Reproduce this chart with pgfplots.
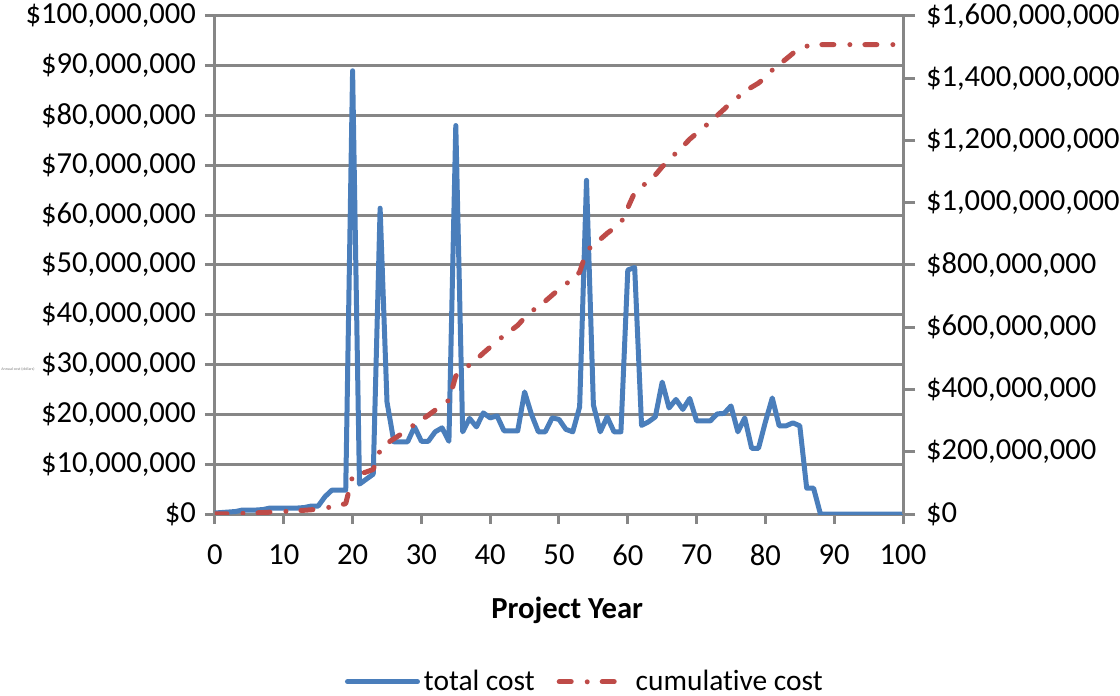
\documentclass[border=0pt]{standalone}
\usepackage{pgfplots}
\usepackage{pgfplotstable}
\pgfplotsset{compat=1.18}
\usepackage{fontspec}
\setmainfont[Ligatures=NoCommon]{Carlito}
\definecolor{cblue}{RGB}{74,126,187}
\definecolor{cred}{RGB}{190,75,72}
\definecolor{cgrid}{RGB}{134,134,134}

\pgfplotstableread{
year total cum
0 0.2 0.2
1 0.3 0.5
2 0.4 0.9
3 0.5 1.4
4 0.8 2.2
5 0.8 3.0
6 0.8 3.8
7 0.9 4.7
8 1.2 5.9
9 1.2 7.1
10 1.2 8.3
11 1.2 9.5
12 1.2 10.7
13 1.3 12.0
14 1.6 13.6
15 1.6 15.2
16 3.5 18.7
17 4.8 23.5
18 4.8 28.3
19 4.8 33.1
20 89 122.1
21 6 128.1
22 7 135.1
23 8 143.1
24 61.4 204.5
25 22.5 227.0
26 14.5 241.5
27 14.5 256.0
28 14.5 270.5
29 17.5 288.0
30 14.6 302.6
31 14.6 317.2
32 16.5 333.7
33 17.3 351.0
34 14.6 365.6
35 78 443.6
36 16.5 460.1
37 19.2 479.3
38 17.5 496.8
39 20.3 517.1
40 19.3 536.4
41 19.7 556.1
42 16.7 572.8
43 16.7 589.5
44 16.7 606.2
45 24.5 630.7
46 20 650.7
47 16.5 667.2
48 16.5 683.7
49 19.3 703.0
50 19 722.0
51 17 739.0
52 16.5 755.5
53 21.5 777.0
54 67 844.0
55 21.9 865.9
56 16.5 882.4
57 19.5 901.9
58 16.5 918.4
59 16.5 934.9
60 49 983.9
61 49.5 1033.4
62 17.8 1051.2
63 18.5 1069.7
64 19.5 1089.2
65 26.5 1115.7
66 21.3 1137.0
67 23 1160.0
68 21 1181.0
69 23.2 1204.2
70 18.7 1222.9
71 18.7 1241.6
72 18.7 1260.3
73 20.1 1280.4
74 20.2 1300.6
75 21.7 1322.3
76 16.5 1338.8
77 19.3 1358.1
78 13.2 1371.3
79 13.2 1384.5
80 18.5 1403.0
81 23.3 1426.3
82 17.7 1444.0
83 17.7 1461.7
84 18.3 1480.0
85 17.7 1497.7
86 5.2 1502.9
87 5.2 1508.1
88 0 1508.1
89 0 1508.1
90 0 1508.1
91 0 1508.1
92 0 1508.1
93 0 1508.1
94 0 1508.1
95 0 1508.1
96 0 1508.1
97 0 1508.1
98 0 1508.1
99 0 1508.1
100 0 1508.1
}\datatable

\begin{document}
\begin{tikzpicture}
\useasboundingbox (-107.5pt,-91pt) rectangle (452.5pt,257pt);
\pgfplotsset{
  every axis/.append style={
    scale only axis, width=344pt, height=249pt,
    xmin=0, xmax=100,
    tick align=outside,
    major tick length=5pt,
    every tick/.style={cgrid, line width=1.5pt},
    axis line style={cgrid, line width=1.5pt},
    tick label style={font=\fontsize{15.3}{18}\selectfont},
    /pgf/number format/assume math mode=true,
  }
}
\begin{axis}[
  axis x line*=bottom, axis y line*=left,
  ymin=0, ymax=100,
  xtick={0,10,...,100},
  ytick={0,10,...,100},
  yticklabels={\$0,{\$10,000,000},{\$20,000,000},{\$30,000,000},{\$40,000,000},{\$50,000,000},{\$60,000,000},{\$70,000,000},{\$80,000,000},{\$90,000,000},{\$100,000,000}},
  ymajorgrids,
  major grid style={cgrid, line width=1.5pt},
  xticklabel style={yshift=-7pt},
  yticklabel style={xshift=-1pt},
  xlabel={\bfseries Project Year},
  xlabel style={font=\fontsize{15.3}{18}\selectfont, at={(axis description cs:0.512,-0.193)}, anchor=center},
]
\addplot[cblue, line width=2.5pt, line join=round] table[x=year, y=total] {\datatable};
\end{axis}
\begin{axis}[
  axis x line=none, axis y line*=right,
  ymin=0, ymax=1600,
  ytick={0,200,...,1600},
  major tick length=6pt,
  yticklabels={\$0,{\$200,000,000},{\$400,000,000},{\$600,000,000},{\$800,000,000},{\$1,000,000,000},{\$1,200,000,000},{\$1,400,000,000},{\$1,600,000,000}},
  yticklabel style={xshift=2pt},
  legend columns=2,
  legend style={draw=none, fill=none, at={(axis description cs:0.539,-0.337)}, anchor=center,
    font=\fontsize{14.7}{18}\selectfont,
    /tikz/every even column/.append style={column sep=9pt}},
  legend image code/.code={\draw[#1] (0pt,0pt) -- (35pt,0pt);},
]
\addlegendimage{cblue, line width=2.5pt, line cap=round}
\addlegendentry{total cost}
\addplot[cred, line width=2.5pt, line cap=round, line join=round, dash pattern=on 6pt off 8pt on 0pt off 7.5pt] table[x=year, y=cum] {\datatable};
\addlegendentry{cumulative cost}
\end{axis}
\node[font=\fontsize{2}{2.4}\selectfont, text=gray] at (-98.5pt,72.5pt) {Annual cost (dollars)};
\end{tikzpicture}
\end{document}
